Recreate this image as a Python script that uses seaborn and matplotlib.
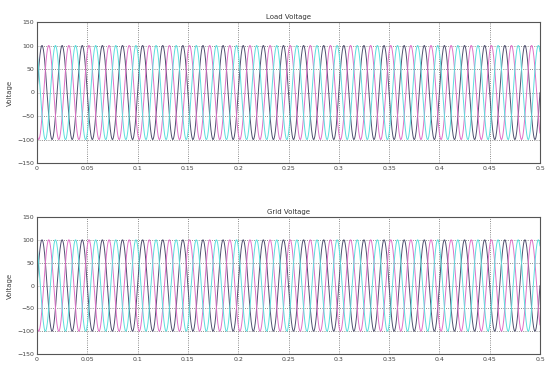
import numpy as np
import pandas as pd
import matplotlib
matplotlib.use("Agg")
import matplotlib.pyplot as plt
import seaborn as sns

# values
titles = ["Load Voltage", "Grid Voltage"]
amplitudes = [100, 100]          # peak volts, both panels
freq_hz = 50                      # 25 cycles over 0.5 s
phase_deg = [0, -120, 120]        # three phases a, b, c
phase_names = ["a", "b", "c"]
phase_colors = ["#505070", "#e070c8", "#5cdede"]
xticks = [0, 0.05, 0.1, 0.15, 0.2, 0.25, 0.3, 0.35, 0.4, 0.45, 0.5]
xticklabels = ["0", "0.05", "0.1", "0.15", "0.2", "0.25", "0.3", "0.35", "0.4", "0.45", "0.5"]
yticks = [-150, -100, -50, 0, 50, 100, 150]
t_end = 0.5

sns.set_theme(style="white")
plt.rcParams["font.family"] = ["DejaVu Sans"]

fig = plt.figure(figsize=(5.46, 3.67), dpi=100)
W, H = 546, 367
boxes = [(37, 22, 540, 163), (37, 217, 540, 354)]

t = np.linspace(0, t_end, 4001)
for title, amp, (x0, y0, x1, y1) in zip(titles, amplitudes, boxes):
    ax = fig.add_axes([x0 / W, 1 - y1 / H, (x1 - x0) / W, (y1 - y0) / H])
    frames = []
    for name, ph in zip(phase_names, phase_deg):
        v = amp * np.sin(2 * np.pi * freq_hz * t + np.deg2rad(ph))
        frames.append(pd.DataFrame({"t": t, "v": v, "phase": name}))
    df = pd.concat(frames)
    sns.lineplot(data=df, x="t", y="v", hue="phase", palette=phase_colors,
                 linewidth=0.7, legend=False, ax=ax, estimator=None)
    ax.set_xlim(0, t_end)
    ax.set_ylim(-150, 150)
    ax.set_xticks(xticks)
    ax.set_xticklabels(xticklabels)
    ax.set_yticks(yticks)
    ax.grid(True, linestyle=":", color="#666666", linewidth=0.6)
    ax.tick_params(labelsize=4.5, length=2, direction="in", pad=2,
                   colors="#444444")
    for s in ax.spines.values():
        s.set_color("#555555")
        s.set_linewidth(0.8)
    ax.set_xlabel("")
    ax.set_ylabel("Voltage", fontsize=5, color="#444444", labelpad=3)
    ax.set_title(title, fontsize=5, color="#333333", pad=2)

fig.savefig("out.png", dpi=100)
